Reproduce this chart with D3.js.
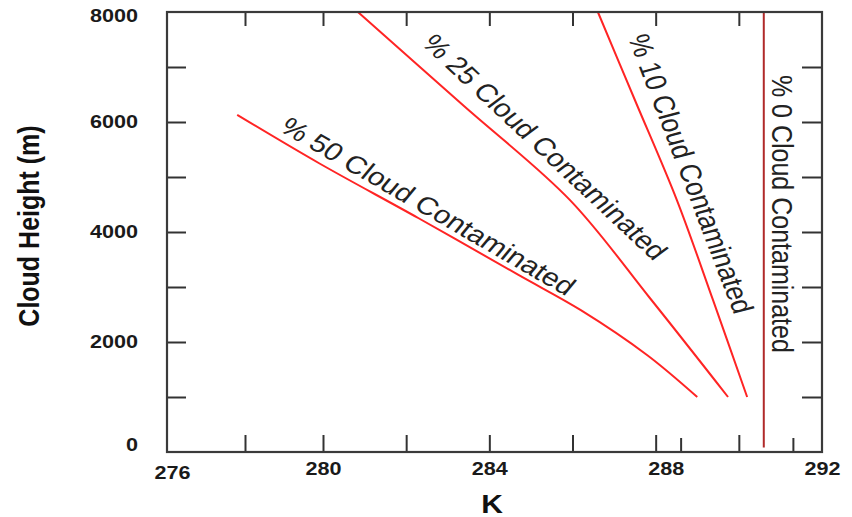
<!DOCTYPE html>
<html lang="en">
<head>
  <meta charset="UTF-8">
  <title>Cloud Height vs K</title>
  <script src="https://cdn.jsdelivr.net/npm/d3@7"></script>
  <style>
    body { margin: 0; background: #fff; }
    svg { display: block; }
    text { font-family: "Liberation Sans", Arial, sans-serif; }
    .tick text { font-size: 18px; font-weight: bold; fill: #1a1a1a; }
    .tick line { stroke: #333; stroke-width: 2; }
    .note { font-size: 25px; fill: #222; }
    .title { font-size: 25px; font-weight: bold; fill: #111; }
  </style>
</head>
<body>
  <svg id="chart" width="852" height="517"></svg>
  <script>
    // temperature (K) against cloud height (m), one pair of arrays per curve
    const cc50K = [277.8, 279.9, 282.3, 284.7, 286.2, 287.8, 289.0];
    const cc50H = [6130, 5250, 4250, 3220, 2580, 1760, 1000];
    const cc25K = [280.84, 283.39, 285.94, 287.86, 289.74];
    const cc25H = [8000, 6290, 4580, 2800, 1000];
    const cc10K = [286.61, 287.5, 288.51, 289.38, 290.2];
    const cc10H = [8000, 6400, 4580, 2760, 1000];
    const cc0K = [290.6, 290.6];
    const cc0H = [80, 8000];

    const xTickLabels = [276, 280, 284, 288, 292];
    const xTickMarks = [278, 280, 282, 284, 286, 288, 290];
    const xExtraMarks = [288.6, 291.3];
    const yTickLabels = [0, 2000, 4000, 6000, 8000];
    const yTickMarks = [1000, 2000, 3000, 4000, 5000, 6000, 7000];

    const noteText = ['% 50 Cloud Contaminated', '% 25 Cloud Contaminated',
                      '% 10 Cloud Contaminated', '% 0 Cloud Contaminated'];
    const noteK = [282.53, 285.34, 288.85, 291.04];
    const noteH = [4470, 5545, 5060, 4330];
    const noteAngle = [30, 43, 69, 90];

    const SX = 1.2; // the original figure is stretched sideways
    const pLeft = 167, pRight = 822, pTop = 12, pBottom = 452;

    const svg = d3.select('#chart');

    // the original axis is not evenly spaced below 280
    const x = d3.scaleLinear().domain([276, 280, 292]).range([pLeft, 323, pRight]);
    const y = d3.scaleLinear().domain([0, 8000]).range([pBottom, pTop]);

    // tick marks, all pointing inwards
    svg.append('g').attr('transform', `translate(0,${pBottom})`)
      .call(d3.axisBottom(x).tickValues(xTickMarks).tickSize(-17).tickFormat(''))
      .call(g => g.select('.domain').remove());
    svg.append('g').attr('transform', `translate(0,${pBottom})`)
      .call(d3.axisBottom(x).tickValues(xExtraMarks).tickSize(-14).tickFormat(''))
      .call(g => g.select('.domain').remove());
    svg.append('g').attr('transform', `translate(0,${pTop})`)
      .call(d3.axisTop(x).tickValues(xTickMarks).tickSize(-14).tickFormat(''))
      .call(g => g.select('.domain').remove());
    svg.append('g').attr('transform', `translate(${pLeft},0)`)
      .call(d3.axisLeft(y).tickValues(yTickMarks).tickSize(-19).tickFormat(''))
      .call(g => g.select('.domain').remove());
    svg.append('g').attr('transform', `translate(${pRight},0)`)
      .call(d3.axisRight(y).tickValues(yTickMarks).tickSize(-20).tickFormat(''))
      .call(g => g.select('.domain').remove());

    // tick labels
    svg.append('g').attr('transform', `translate(0,${pBottom})`)
      .call(d3.axisBottom(x).tickValues(xTickLabels).tickSize(0).tickPadding(10).tickFormat(d3.format('d')))
      .call(g => g.select('.domain').remove())
      .call(g => g.selectAll('text')
        .attr('x', d => d === 276 ? 5 / SX : d === 288 ? 10 / SX : 0)
        .attr('y', d => d === 276 ? 14 : 10)
        .attr('transform', `scale(${SX},1)`));
    svg.append('g').attr('transform', `translate(${pLeft},0)`)
      .call(d3.axisLeft(y).tickValues(yTickLabels).tickSize(0).tickFormat(d3.format('d')))
      .call(g => g.select('.domain').remove())
      .call(g => g.selectAll('text')
        .attr('x', 0)
        .attr('y', d => d === 8000 ? 4 : d === 0 ? -7 : 0)
        .attr('transform', `translate(-29,0) scale(${SX},1)`));

    // curves
    const line = d3.line()
      .x(d => x(d[0]))
      .y(d => y(d[1]))
      .curve(d3.curveCatmullRom);

    const series = [
      { k: cc50K, h: cc50H, color: '#ff2424' },
      { k: cc25K, h: cc25H, color: '#ff2424' },
      { k: cc10K, h: cc10H, color: '#ff2424' },
      { k: cc0K, h: cc0H, color: '#b02a2a' }
    ];
    series.forEach(s => {
      svg.append('path')
        .attr('d', line(d3.zip(s.k, s.h)))
        .attr('fill', 'none')
        .attr('stroke', s.color)
        .attr('stroke-width', 2);
    });

    // labels along the curves
    noteText.forEach((t, i) => {
      const a = noteAngle[i] * Math.PI / 180;
      const local = Math.atan2(SX * Math.sin(a), Math.cos(a)) * 180 / Math.PI;
      svg.append('text')
        .attr('class', 'note')
        .attr('text-anchor', 'middle')
        .attr('dy', '0.35em')
        .attr('transform', `translate(${x(noteK[i])},${y(noteH[i])}) scale(${SX},1) rotate(${local})`)
        .text(t);
    });

    // frame
    svg.append('rect')
      .attr('x', pLeft).attr('y', pTop)
      .attr('width', pRight - pLeft).attr('height', pBottom - pTop)
      .attr('fill', 'none')
      .attr('stroke', '#3a3a3a')
      .attr('stroke-width', 2.2);

    // axis titles
    svg.append('text')
      .attr('class', 'title')
      .attr('text-anchor', 'middle')
      .attr('transform', `translate(39,226) scale(${SX},1) rotate(-90)`)
      .text('Cloud Height (m)');
    svg.append('text')
      .attr('class', 'title')
      .attr('text-anchor', 'middle')
      .attr('transform', `translate(492,513) scale(${SX},1)`)
      .text('K');
  </script>
</body>
</html>
